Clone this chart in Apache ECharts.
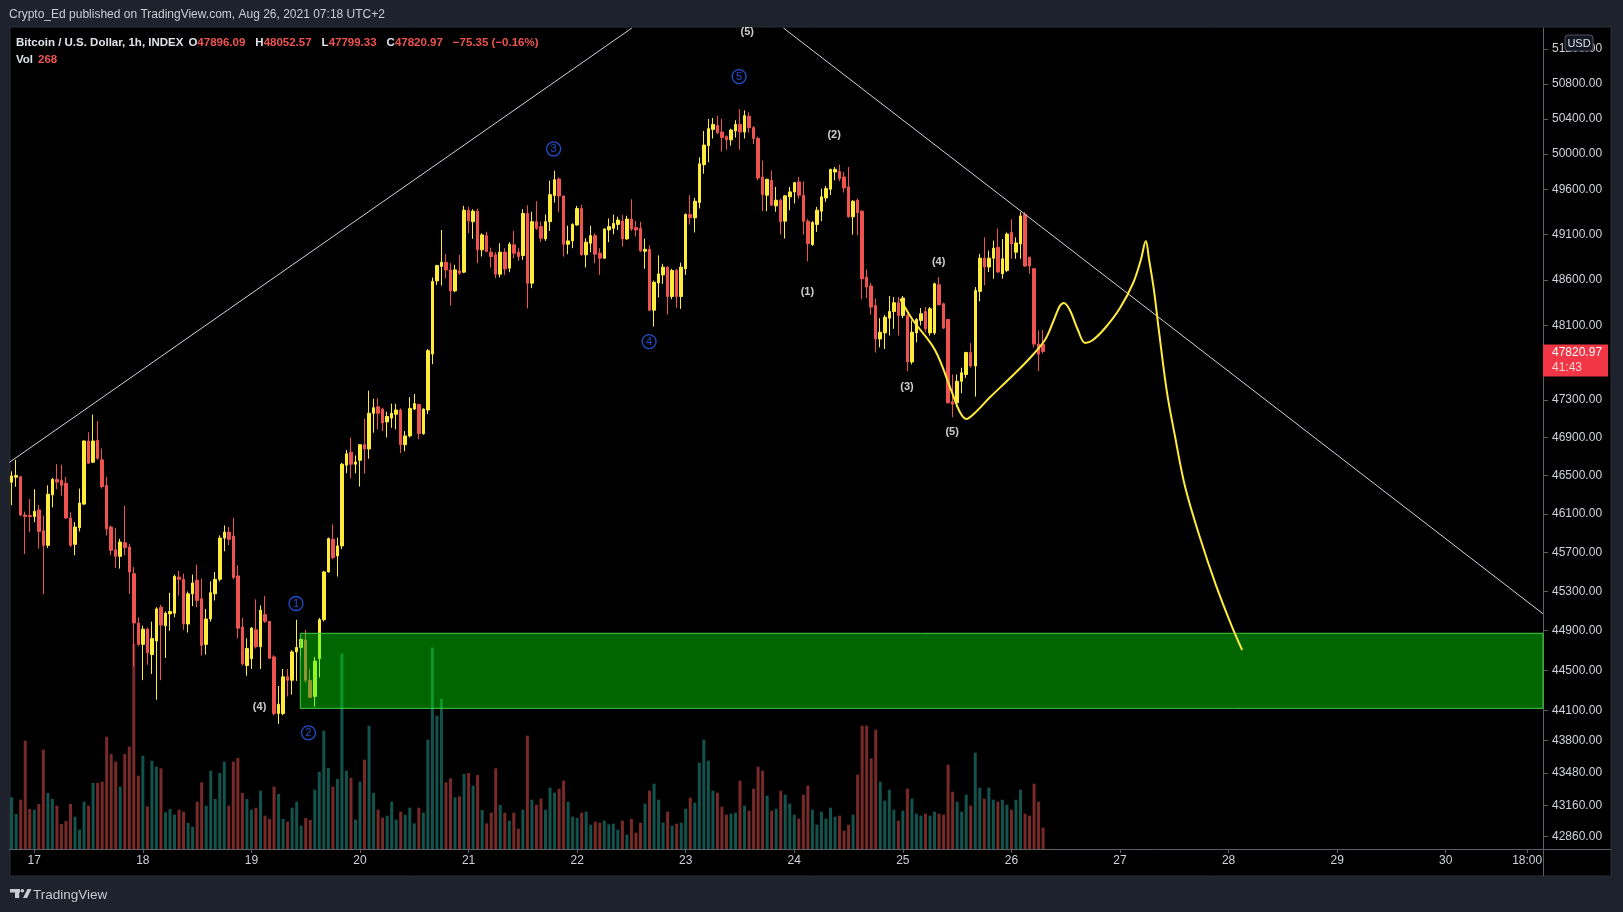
<!DOCTYPE html>
<html><head><meta charset="utf-8">
<script src="https://cdn.jsdelivr.net/npm/echarts@6.0.0/dist/echarts.min.js"></script>
<style>html,body{margin:0;padding:0;background:#1e222d;}#c{width:1623px;height:912px;}</style>
</head><body><div id="c"></div>
<script>
// ---------- data (BTC/USD 1h, from 2021-08-16 19:00 UTC+2) ----------
const startUTC = Date.UTC(2021, 7, 16, 19);
const hourSlots = 339;
const open = [46430,46483,46486,46088,46082,46071,46140,45924,45773,46298,
46459,46449,46418,46057,45783,45955,46201,46864,46641,46870,
46665,46397,45962,45728,45660,45800,45756,45481,44977,44761,
44915,44658,44795,45138,44950,45070,45077,45447,45423,44967,
45275,45413,45224,44761,45018,45275,45423,45848,45910,45870,
45458,44936,44548,44616,44908,44737,45063,44994,44634,44067,
44067,44434,44400,44685,44730,44805,44400,44238,44616,45011,
45499,45836,45664,45767,46609,46746,46619,46660,46825,46780,
47158,47227,47203,47066,47107,47148,47193,46825,46918,47203,
47251,46942,47193,47793,48589,48747,48795,48710,48479,48699,
48685,49371,49243,49360,48931,49088,48905,48876,48663,48905,
48729,48986,48905,48868,49334,48564,49243,49188,49052,49243,
49536,49720,49529,48993,49030,49206,49389,48876,49004,49088,
48894,48839,49151,49169,49213,49250,49052,49272,49177,49169,
48915,48937,48269,48566,48655,48740,48418,48703,48418,48722,
49323,49286,49456,49880,50095,50280,50325,50250,50198,50161,
50262,50336,50250,50429,50299,50176,49742,49538,49705,49419,
49482,49249,49520,49575,49687,49538,49249,48989,49212,49360,
49508,49605,49798,49805,49742,49631,49297,49482,49360,48631,
48533,48321,47956,48022,48182,48255,48350,48212,48212,47708,
48022,48157,48255,48022,48022,48547,48339,48168,47281,47270,
47500,47573,47810,47664,48474,48839,48741,48839,48960,48668,
48704,49124,48905,48996,49325,48850,48723,47901,47896.09];
const high = [46545,46665,46495,46123,46253,46356,46191,46082,46397,46476,
46620,46613,46486,46116,46013,46363,46870,46956,47145,47076,
46785,46486,45979,45951,45841,46184,45790,45550,45035,44950,
44932,44991,45138,45162,45094,45286,45471,45509,45481,45299,
45471,45574,45430,45121,45402,45498,45876,45979,45962,46059,
45568,45029,44822,44936,45218,45156,45252,44994,44651,44342,
44513,44513,44702,45011,44822,44908,44513,44634,45029,45509,
45853,45990,45853,46633,46770,46901,46712,46832,47100,47399,
47313,47320,47217,47175,47261,47261,47210,46969,47330,47364,
47261,47210,47848,48626,48766,49151,48883,48784,48766,48876,
49419,49408,49382,49389,49114,49132,48956,48905,49004,48949,
49015,49140,48949,49382,49426,49353,49470,49243,49323,49701,
49812,49738,49536,49199,49224,49419,49433,49059,49199,49114,
48949,49169,49279,49323,49298,49316,49309,49492,49250,49243,
49056,48982,48592,48870,48777,48748,48722,48722,48789,49334,
49538,49508,49965,50262,50399,50410,50436,50399,50213,50288,
50384,50510,50495,50473,50317,50198,49928,49724,49816,49631,
49501,49538,49631,49687,49742,49694,49271,49249,49408,49613,
49642,49835,49854,49880,49798,49854,49482,49501,49371,48715,
48569,48394,48182,48219,48423,48412,48412,48423,48230,48157,
48182,48292,48303,48303,48569,48631,48350,48175,47573,47573,
47646,47817,47912,48522,48887,49069,48923,49033,49168,49051,
49124,49270,49069,49350,49350,48850,48730,48047,48052.57];
const low = [46190,46383,46075,45684,45910,46013,45738,45269,45745,46167,
46356,46287,46047,45756,45670,45917,46191,46623,46630,46665,
46363,45876,45670,45540,45533,45670,45276,44538,44744,44401,
44555,44463,44205,44401,44624,44898,45036,45258,44908,44881,
45149,45138,44648,44658,44991,45207,45402,45711,45773,45424,
44822,44548,44445,44513,44719,44513,44977,44616,44050,43964,
44050,44238,44256,44393,44634,44376,44221,44135,44427,44994,
45492,45630,45451,45733,46523,46471,46523,46385,46523,46677,
46952,46987,46969,46901,47004,46987,46736,46756,46901,47193,
46883,46930,47150,47683,48545,48538,48619,48318,48465,48655,
48674,49114,49052,48784,48857,48905,48736,48619,48626,48655,
48685,48839,48810,48821,48288,48509,49151,49015,49030,49140,
49455,49353,48857,48883,48949,49199,48868,48736,48905,48784,
48655,48832,49015,49103,49151,48967,49041,49140,49078,48905,
48722,48258,48091,48407,48555,48221,48388,48295,48284,48655,
49212,49123,49390,49779,49909,50176,50225,50028,50050,50095,
50187,50050,50176,50243,50113,49705,49360,49360,49419,49353,
49100,49056,49371,49445,49501,49100,48804,48974,49130,49249,
49464,49538,49705,49694,49568,49286,49100,49093,48388,48401,
48219,47810,47865,47847,47993,48066,47993,48182,47609,47682,
47920,48102,48029,47993,48000,48321,48066,47263,47116,47226,
47372,47536,47646,47336,48365,48540,48686,48613,48679,48613,
48686,48832,48832,48832,48741,48668,47865,47609,47799.33];
const close = [46495,46500,46088,46071,46071,46126,45917,45773,46304,46459,
46431,46397,46057,45773,45962,46212,46864,46630,46864,46682,
46383,45944,45721,45660,45807,45749,45498,44977,44761,44915,
44675,44819,45121,44956,45077,45094,45454,45423,44967,45275,
45385,45207,44751,45018,45286,45423,45848,45910,45835,45441,
44925,44565,44719,44926,44737,45108,44994,44620,44067,44160,
44434,44400,44685,44730,44812,44400,44228,44592,45011,45499,
45843,45647,45767,46619,46729,46619,46643,46825,46780,47158,
47217,47158,47055,47124,47158,47193,46825,46918,47210,47261,
46942,47203,47830,48582,48758,48795,48710,48479,48710,48674,
49371,49250,49360,48931,49096,48912,48857,48663,48905,48721,
48993,48894,48857,49334,48564,49243,49169,49059,49243,49544,
49712,49529,48993,49030,49213,49389,48876,49015,49088,48883,
48839,49162,49188,49224,49261,49052,49272,49162,49151,48920,
48937,48269,48574,48666,48740,48418,48703,48418,48740,49323,
49286,49471,49891,50102,50288,50336,50243,50187,50161,50273,
50336,50250,50436,50299,50176,49731,49546,49716,49427,49482,
49241,49531,49575,49679,49538,49249,49000,49234,49371,49520,
49612,49828,49828,49724,49620,49297,49471,49345,48611,48522,
48303,47956,48029,48193,48255,48350,48212,48401,47708,48029,
48168,48230,48066,48284,48558,48328,48073,47270,47255,47500,
47591,47810,47664,48485,48839,48741,48839,48949,48686,48832,
49106,48996,49007,49307,48752,48752,47901,47792,47820.97];
const volume = [155,105,148,325,120,118,135,298,168,150,
130,75,84,135,97,58,142,130,198,198,
202,337,285,262,187,285,307,616,220,280,
128,265,247,242,110,120,103,118,112,78,
67,142,200,130,235,150,228,262,130,262,
273,168,150,118,124,175,100,90,187,165,
90,82,124,142,70,93,87,178,232,355,
243,187,210,586,235,213,88,202,268,370,
168,118,94,100,142,88,112,103,124,77,
124,109,328,604,400,450,200,212,155,158,
225,228,190,222,117,77,109,242,132,109,
85,109,61,118,340,148,133,151,118,184,
169,181,205,142,97,93,109,112,73,82,
79,85,74,76,58,85,43,90,49,79,
136,175,196,148,79,112,70,76,79,121,
154,139,259,328,265,175,169,127,103,106,
109,205,130,115,181,247,235,160,115,121,
175,163,136,103,91,163,190,118,73,112,
91,124,97,100,55,73,103,223,370,370,
272,358,202,145,178,118,85,115,181,151,
106,100,106,100,112,106,103,253,172,142,
112,163,130,289,184,151,184,148,142,148,
133,118,148,178,106,100,196,142,64];
const volumeAxisMax = 2463;
const lastVolText = '268';

// price-axis range and tick labels (log price scale)
const priceTop = 51444, priceBottom = 42740;
const priceTicks = [51200,50800,50400,50000,49600,49100,48600,48100,47300,46900,46500,46100,45700,45300,44900,44500,44100,43800,43480,43160,42860];

// drawings, positioned in [hour index, price]
const trendA = [[-0.5, 46639], [137.1, 51444]];
const trendB = [[170.6, 51444], [338.5, 45071]];
const zone = [63.8, 338.5, 44873, 44119];
const projX = [196.4,199.2,204.1,207.9,209.6,211.0,212.9,216.3,220.7,225.1,228.4,230.2,231.7,232.6,233.9,235.7,237.3,239.0,241.7,245.0,247.9,249.6,250.7,251.4,252.5,253.6,255.4,257.1,259.4,262.7,266.2,269.7,272.0];
const projP = [48391,48162,47837,47375,47172,47097,47161,47331,47535,47751,47945,48140,48314,48347,48271,48053,47913,47945,48075,48293,48566,48819,49029,48830,48489,48043,47375,46927,46379,45849,45364,44946,44704];
const circleText = ['1','2','3','4','5'];
const circleX = [62.85, 65.6, 119.8, 140.9, 160.8];
const circleP = [45176, 43876, 50058, 47928, 50883];
const waveText = ['(4)','(5)','(1)','(2)','(3)','(4)','(5)'];
const waveX = [54.8, 162.6, 175.9, 181.8, 197.9, 204.9, 207.9];
const waveP = [44133, 51398, 48468, 50220, 47438, 48798, 46964];
const countdown = '41:43';

// ---------- build ----------
const L = Math.log;
const pad = n => String(n).padStart(2, '0');
const cats = [];
for (let i = 0; i < hourSlots; i++) {
  const d = new Date(startUTC + i * 3600000);
  cats.push(d.getUTCFullYear() + '-' + pad(d.getUTCMonth() + 1) + '-' + pad(d.getUTCDate()) + ' ' + pad(d.getUTCHours()) + ':00');
}
const showLabel = (idx, val) => val.slice(11, 13) === '00' || val === '2021-08-30 18:00';
const fmtLabel = val => val.slice(11, 13) === '00' ? String(+val.slice(8, 10)) : val.slice(11);

const UP = '#ffeb3b', DOWN = '#ef5350';
const candleData = open.map((o, i) => [L(o), L(close[i]), L(low[i]), L(high[i])]);
const volData = volume.map((v, i) => ({ value: v, itemStyle: { color: close[i] >= open[i] ? 'rgba(38,166,154,0.5)' : 'rgba(239,83,80,0.5)' } }));
const last = close.length - 1;
const FONT = "'Liberation Sans', Arial, sans-serif";
const AX = '#5d606b';
const legendRich = {
  w: { color: '#e0e3eb', fontSize: 11.5, lineHeight: 14, fontFamily: FONT },
  r: { color: '#ef5350', fontSize: 11.5, lineHeight: 14, fontFamily: FONT }
};

const chart = echarts.init(document.getElementById('c'), null, { renderer: 'canvas' });
chart.setOption({
  animation: false,
  backgroundColor: '#1e222d',
  textStyle: { fontFamily: FONT },
  graphic: [
    { type: 'rect', z: -10, shape: { x: 10, y: 27, width: 1601, height: 849 }, style: { fill: '#000', stroke: '#2a2e39', lineWidth: 1 } },
    { type: 'line', z: 1, shape: { x1: 1543, y1: 849.5, x2: 1611, y2: 849.5 }, style: { stroke: AX, lineWidth: 1 } },
    { type: 'line', z: 1, shape: { x1: 1543.5, y1: 849, x2: 1543.5, y2: 876 }, style: { stroke: AX, lineWidth: 1 } },
    { type: 'rect', z: 100, zlevel: 1, shape: { x: 1565, y: 35, width: 28, height: 16, r: 3 }, style: { fill: '#131722', stroke: '#50535e', lineWidth: 1 } },
    { type: 'text', z: 101, zlevel: 1, style: { x: 1579, y: 43.5, text: 'USD', fill: '#e0e3eb', font: '11px ' + FONT, align: 'center', verticalAlign: 'middle' } },
    { type: 'rect', z: 20, shape: { x: 10, y: 889, width: 10, height: 3.5 }, style: { fill: '#c8cad0' } },
    { type: 'rect', z: 20, shape: { x: 15, y: 889, width: 4.2, height: 9 }, style: { fill: '#c8cad0' } },
    { type: 'circle', z: 20, shape: { cx: 22.3, cy: 890.8, r: 1.8 }, style: { fill: '#c8cad0' } },
    { type: 'polygon', z: 20, shape: { points: [[23, 898], [27, 898], [31.5, 889], [27.5, 889]] }, style: { fill: '#c8cad0' } }
  ],
  title: [
    { text: 'Crypto_Ed published on TradingView.com, Aug 26, 2021 07:18 UTC+2', left: 9, top: 8, padding: 0,
      textStyle: { color: '#c9ccd4', fontSize: 12, fontWeight: 'normal', lineHeight: 14, fontFamily: FONT } },
    { text: '{w|Bitcoin / U.S. Dollar, 1h, INDEX} {w|O}{r|' + open[last].toFixed(2) + '}  {w|H}{r|' + high[last].toFixed(2) + '}  {w|L}{r|' + low[last].toFixed(2) + '}  {w|C}{r|' + close[last].toFixed(2) + '}  {r|\u221275.35 (\u22120.16%)}',
      left: 16, top: 34, padding: 0, textStyle: { rich: legendRich } },
    { text: '{w|Vol} {r|' + lastVolText + '}', left: 16, top: 51, padding: 0, textStyle: { rich: legendRich } },
    { text: 'TradingView', left: 33, top: 887, padding: 0,
      textStyle: { color: '#c8cad0', fontSize: 13.5, fontWeight: 'normal', lineHeight: 16, fontFamily: FONT } }
  ],
  grid: { left: 9.4, right: 80, top: 28, bottom: 63, containLabel: false, outerBoundsMode: 'none' },
  xAxis: [
    { type: 'category', data: cats, boundaryGap: true,
      axisLine: { onZero: false, lineStyle: { color: AX } },
      axisTick: { show: true, alignWithLabel: true, interval: showLabel, length: 4, lineStyle: { color: AX } },
      axisLabel: { interval: showLabel, formatter: fmtLabel, color: '#d1d4dc', fontSize: 12, margin: 6, fontFamily: FONT },
      splitLine: { show: false } },
    { type: 'value', min: -0.5, max: hourSlots - 0.5, show: false, axisLine: { onZero: false } }
  ],
  yAxis: [
    { type: 'value', position: 'right', min: L(priceBottom), max: L(priceTop), scale: true,
      axisLine: { show: true, onZero: false, lineStyle: { color: AX } },
      axisTick: { show: true, length: 5, lineStyle: { color: AX }, customValues: priceTicks.map(L) },
      axisLabel: { customValues: priceTicks.map(L), formatter: v => Math.exp(v).toFixed(2), color: '#d1d4dc', fontSize: 12, margin: 9, fontFamily: FONT },
      splitLine: { show: false } },
    { type: 'value', position: 'right', min: 0, max: volumeAxisMax, show: false, axisLine: { onZero: false }, splitLine: { show: false } }
  ],
  series: [
    { name: 'Vol', type: 'bar', xAxisIndex: 0, yAxisIndex: 1, data: volData, barWidth: 3, z: 1, silent: true },
    { name: 'BTCUSD', type: 'candlestick', xAxisIndex: 0, yAxisIndex: 0, data: candleData, barWidth: 3, z: 2, silent: true, clip: false,
      itemStyle: { color: UP, color0: DOWN, borderColor: UP, borderColor0: DOWN, borderWidth: 1 } },
    { name: 'lastPrice', type: 'line', xAxisIndex: 1, yAxisIndex: 0, z: 8, silent: true, symbol: 'none', clip: false,
      data: [[-0.5, L(close[last])], [hourSlots - 0.5, L(close[last])]],
      lineStyle: { color: 'rgba(0,0,0,0)', width: 1 },
      endLabel: { show: true, distance: 0, offset: [0, 9],
        formatter: () => '{a|' + close[last].toFixed(2) + '}\n{b|' + countdown + '}',
        backgroundColor: '#f23645', padding: [1, 6, 1, 9],
        rich: { a: { color: '#ffffff', fontSize: 12, lineHeight: 15, fontFamily: FONT }, b: { color: '#ffd6d6', fontSize: 12, lineHeight: 15, fontFamily: FONT } } } },
    { name: 'zone', type: 'custom', xAxisIndex: 1, yAxisIndex: 0, z: 3, silent: true,
      data: [[zone[0], zone[1], L(zone[2]), L(zone[3])]],
      encode: { x: [0, 1], y: [2, 3] },
      renderItem: (params, api) => {
        const p0 = api.coord([api.value(0), api.value(2)]);
        const p1 = api.coord([api.value(1), api.value(3)]);
        return { type: 'rect', shape: { x: p0[0], y: p0[1], width: p1[0] - p0[0], height: p1[1] - p0[1] },
          style: { fill: 'rgba(0,255,0,0.4)', stroke: '#3fcf3f', lineWidth: 1 } };
      } },
    { name: 'trendA', type: 'line', xAxisIndex: 1, yAxisIndex: 0, z: 4, silent: true, symbol: 'none', clip: true,
      data: trendA.map(p => [p[0], L(p[1])]), lineStyle: { color: '#d1d4dc', width: 1 } },
    { name: 'trendB', type: 'line', xAxisIndex: 1, yAxisIndex: 0, z: 4, silent: true, symbol: 'none', clip: true,
      data: trendB.map(p => [p[0], L(p[1])]), lineStyle: { color: '#d1d4dc', width: 1 } },
    { name: 'projection', type: 'line', xAxisIndex: 1, yAxisIndex: 0, z: 6, silent: true, symbol: 'none', smooth: 0.35,
      data: projX.map((x, i) => [x, L(projP[i])]), lineStyle: { color: '#ffeb3b', width: 2 } },
    { name: 'circles', type: 'scatter', xAxisIndex: 1, yAxisIndex: 0, z: 7, silent: true, symbolSize: 1,
      itemStyle: { color: 'rgba(0,0,0,0)' },
      data: circleX.map((x, i) => ({ value: [x, L(circleP[i])], name: circleText[i] })),
      label: { show: true, position: 'inside', formatter: p => '{c|' + p.name + '}',
        rich: { c: { color: '#2962ff', fontSize: 11, width: 14, height: 14, lineHeight: 15, align: 'center', borderColor: '#2962ff', borderWidth: 1.3, borderRadius: 8, fontFamily: FONT } } } },
    { name: 'waves', type: 'scatter', xAxisIndex: 1, yAxisIndex: 0, z: 7, silent: true, symbolSize: 1,
      itemStyle: { color: 'rgba(0,0,0,0)' },
      data: waveX.map((x, i) => ({ value: [x, L(waveP[i])], name: waveText[i] })),
      label: { show: true, position: 'inside', formatter: p => p.name, color: '#ffffff', fontSize: 11, fontWeight: 'bold', fontFamily: FONT } }
  ]
});
</script>
</body></html>
